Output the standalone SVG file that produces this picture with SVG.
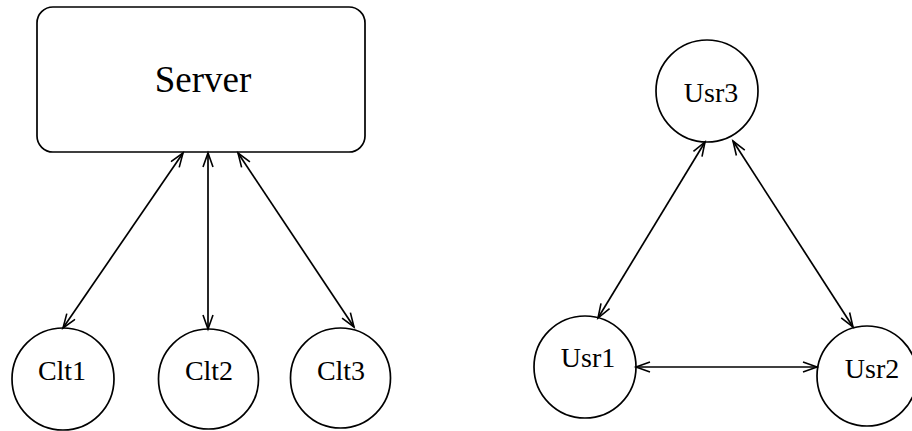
<svg xmlns="http://www.w3.org/2000/svg" width="912" height="431" viewBox="0 0 912 431">
  <style>
    .shape { fill: #fff; stroke: #000; stroke-width: 1.7; }
    .label { font-family: "Liberation Serif", "Times New Roman", serif; fill: #000; text-anchor: middle; }
    .big { font-size: 37px; }
    .small { font-size: 28px; }
    .link { stroke: #000; stroke-width: 1.7; fill: none; marker-start: url(#head); marker-end: url(#head); }
  </style>
  <defs>
    <marker id="head" markerUnits="userSpaceOnUse" markerWidth="18" markerHeight="14" refX="15" refY="6" orient="auto-start-reverse">
      <path d="M1,1 L15,6 L1,11" fill="none" stroke="#000" stroke-width="1.6"/>
    </marker>
  </defs>
  <rect width="912" height="431" fill="#fff"/>

  <!-- client/server -->
  <g id="server">
    <rect class="shape" x="37" y="7" width="328" height="145" rx="16" ry="16"/>
    <text class="label big" x="203" y="92">Server</text>
  </g>
  <g id="clt1">
    <circle class="shape" cx="63" cy="379" r="51"/>
    <text class="label small" x="62" y="380">Clt1</text>
  </g>
  <g id="clt2">
    <circle class="shape" cx="208.5" cy="379" r="50"/>
    <text class="label small" x="209" y="380">Clt2</text>
  </g>
  <g id="clt3">
    <circle class="shape" cx="340.5" cy="378" r="50"/>
    <text class="label small" x="341" y="380">Clt3</text>
  </g>

  <!-- peer to peer -->
  <g id="usr3">
    <circle class="shape" cx="707" cy="91" r="51"/>
    <text class="label small" x="711" y="102">Usr3</text>
  </g>
  <g id="usr1">
    <circle class="shape" cx="585" cy="367" r="51"/>
    <text class="label small" x="588" y="367">Usr1</text>
  </g>
  <g id="usr2">
    <circle class="shape" cx="867" cy="376" r="50"/>
    <text class="label small" x="872" y="378">Usr2</text>
  </g>

  <g id="connectors">
    <line class="link" x1="183" y1="153" x2="63" y2="328"/>
    <line class="link" x1="208" y1="153" x2="208" y2="329"/>
    <line class="link" x1="238" y1="153" x2="354" y2="327"/>
    <line class="link" x1="705" y1="142" x2="598" y2="318"/>
    <line class="link" x1="733" y1="141" x2="853" y2="327"/>
    <line class="link" x1="636" y1="367" x2="817" y2="367"/>
  </g>
</svg>
